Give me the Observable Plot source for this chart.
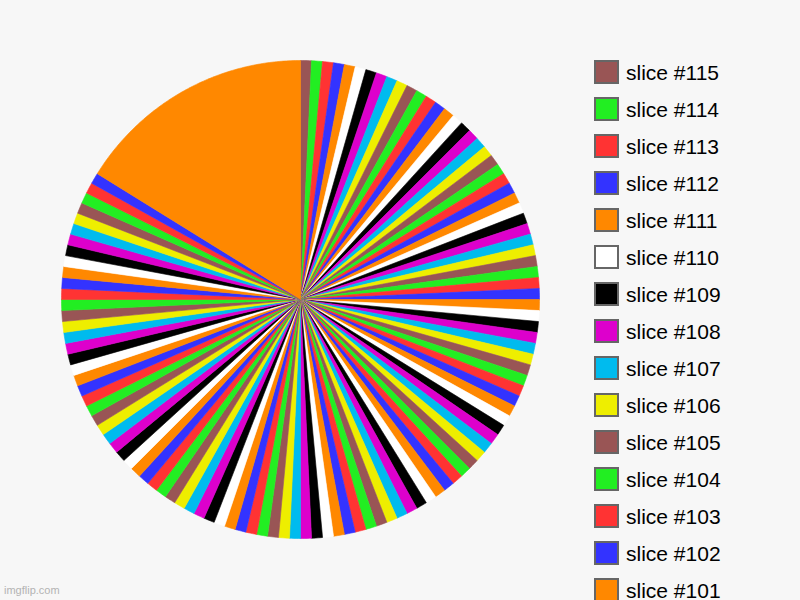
<!DOCTYPE html>
<html>
<head>
<meta charset="utf-8">
<script src="https://cdn.jsdelivr.net/npm/d3@7"></script>
<script src="https://cdn.jsdelivr.net/npm/@observablehq/plot@0.6"></script>
<style>
  html, body { margin: 0; padding: 0; background: #f7f7f7; }
  #wrap { position: relative; width: 800px; height: 600px; overflow: hidden; background: #f7f7f7; font-family: "Liberation Sans", Arial, sans-serif; }
  #chart { position: absolute; left: 0; top: 0; }
  #legend { position: absolute; left: 594px; top: 60px; }
  .row { display: flex; align-items: flex-start; height: 37px; }
  .sw { width: 25px; height: 24px; box-sizing: border-box; border: 2px solid #666; }
  .lb { margin-left: 7px; font-size: 21px; line-height: 25px; color: #000; white-space: nowrap; }
  #wm { position: absolute; left: 4px; top: 584px; font-size: 11px; color: #b3b3b3; font-family: "Liberation Sans", Arial, sans-serif; }
</style>
</head>
<body>
<div id="wrap">
  <div id="chart"></div>
  <div id="legend"></div>
  <div id="wm">imgflip.com</div>
</div>
<script>
// slice numbers 1..115 and their values (slice #1 is the large orange slice)
const sliceNumbers = d3.range(1, 116);
const sliceValues = [
  22, 1, 1, 1, 1, 1, 1, 1, 1, 1,
  1, 1, 1, 1, 1, 1, 1, 1, 1, 1,
  1, 1, 1, 1, 1, 1, 1, 1, 1, 1,
  1, 1, 1, 1, 1, 1, 1, 1, 1, 1,
  1, 1, 1, 1, 1, 1, 1, 1, 1, 1,
  1, 1, 1, 1, 1, 1, 1, 1, 1, 1,
  1, 1, 1, 1, 1, 1, 1, 1, 1, 1,
  1, 1, 1, 1, 1, 1, 1, 1, 1, 1,
  1, 1, 1, 1, 1, 1, 1, 1, 1, 1,
  1, 1, 1, 1, 1, 1, 1, 1, 1, 1,
  1, 1, 1, 1, 1, 1, 1, 1, 1, 1,
  1, 1, 1, 1, 1
];
const palette = ["#ff8800", "#3333ff", "#ff3333", "#22ee22", "#995555",
                 "#eeee00", "#00bbee", "#dd00cc", "#000000", "#ffffff"];
const sliceLabels = sliceNumbers.map(n => "slice #" + n);
// legend entries visible in the picture (the list runs off the bottom edge)
const legendNumbers = [115, 114, 113, 112, 111, 110, 109, 108, 107, 106, 105, 104, 103, 102, 101];

const slices = sliceNumbers.map((n, i) => ({
  n, label: sliceLabels[i], value: sliceValues[i], color: palette[(n - 1) % palette.length]
}));

// drawn clockwise from 12 o'clock, highest slice number first
const ordered = slices.slice().reverse();
const arcs = d3.pie().sort(null).value(d => d.value).startAngle(0).endAngle(2 * Math.PI)(ordered);

const pts = [];
for (const a of arcs) {
  const id = a.data.n;
  const color = a.data.color;
  pts.push({id, color, x: 0, y: 0});
  const steps = Math.max(2, Math.ceil((a.endAngle - a.startAngle) / 0.01));
  for (let k = 0; k <= steps; k++) {
    const t = a.startAngle + (a.endAngle - a.startAngle) * k / steps;
    pts.push({id, color, x: Math.sin(t), y: Math.cos(t)});
  }
  pts.push({id, color, x: 0, y: 0});
}

const plot = Plot.plot({
  width: 800,
  height: 600,
  marginLeft: 61,
  marginRight: 261,
  marginTop: 60,
  marginBottom: 62,
  style: { background: "transparent" },
  x: { domain: [-1, 1], axis: null },
  y: { domain: [-1, 1], axis: null },
  color: { type: "identity" },
  marks: [
    Plot.line(pts, { x: "x", y: "y", z: "id", fill: "color", stroke: "color", strokeWidth: 0.6, strokeLinejoin: "miter" })
  ]
});
document.getElementById("chart").appendChild(plot);

const legend = document.getElementById("legend");
for (const n of legendNumbers) {
  const s = slices[n - 1];
  const row = document.createElement("div");
  row.className = "row";
  const sw = document.createElement("div");
  sw.className = "sw";
  sw.style.background = s.color;
  const lb = document.createElement("div");
  lb.className = "lb";
  lb.textContent = s.label;
  row.appendChild(sw);
  row.appendChild(lb);
  legend.appendChild(row);
}
</script>
</body>
</html>
